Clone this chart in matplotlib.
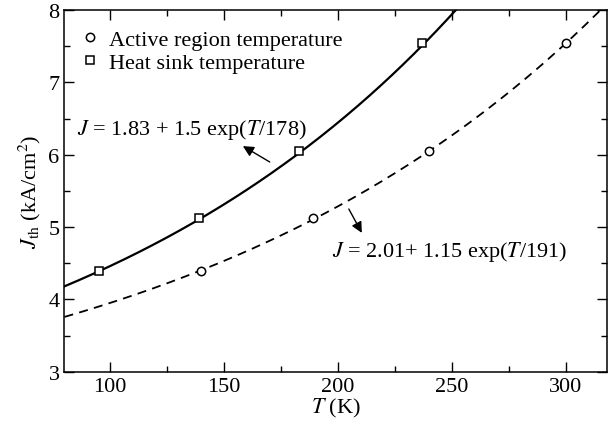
import numpy as np
import matplotlib
matplotlib.use("Agg")
import matplotlib.pyplot as plt
from matplotlib.ticker import MultipleLocator

plt.rcParams['font.family'] = ['Liberation Serif', 'DejaVu Serif']
plt.rcParams['mathtext.fontset'] = 'stix'

# measured threshold current density, kA/cm^2
T_sink = [95, 139, 183, 237]
J_sink = [4.40, 5.12, 6.05, 7.55]
T_active = [140, 189, 240, 300]
J_active = [4.40, 5.12, 6.05, 7.55]

# fit J = a + b exp(T/T0)
fit_sink = (1.83, 1.5, 178)
fit_active = (2.01, 1.15, 191)

def fit(T, p):
    a, b, T0 = p
    return a + b * np.exp(T / T0)

fs = 16
arrow = dict(arrowstyle='-|>', color='black', lw=1, mutation_scale=16,
             shrinkA=0, shrinkB=0)

fig = plt.figure(figsize=(6.08, 4.27), dpi=100)
ax = fig.add_axes([0.106, 0.127, 0.892, 0.847])

T = np.linspace(80, 320, 400)
ax.plot(T, fit(T, fit_sink), color='black', lw=1.6)
ax.plot(T, fit(T, fit_active), color='black', lw=1.3, ls=(0, (5, 3.5)))

ax.plot(T_active, J_active, 'o', mfc='white', mec='black', mew=1.1, ms=6,
        label='Active region temperature')
ax.plot(T_sink, J_sink, 's', mfc='white', mec='black', mew=1.1, ms=5.5,
        label='Heat sink temperature')

# fit labels with arrows pointing to the curves
ax.text(85.5, 6.36, '$J$ = 1.83 + 1.5 exp($T$/178)', fontsize=fs, va='center')
ax.annotate('', xy=(158.3, 6.12), xytext=(170.1, 5.90), arrowprops=arrow)
ax.text(197.3, 4.67, '$J$ = 2.01+ 1.15 exp($T$/191)', fontsize=fs, va='center')
ax.annotate('', xy=(210.5, 4.92), xytext=(204.8, 5.25), arrowprops=arrow)

ax.set_xlim(80, 318)
ax.set_ylim(3, 8)
ax.xaxis.set_major_locator(MultipleLocator(50))
ax.xaxis.set_minor_locator(MultipleLocator(25))
ax.yaxis.set_major_locator(MultipleLocator(1))
ax.yaxis.set_minor_locator(MultipleLocator(0.5))
ax.tick_params(which='both', direction='in', top=True, right=True, labelsize=fs, width=1)
ax.tick_params(which='major', length=7)
ax.tick_params(which='minor', length=4)
for s in ax.spines.values():
    s.set_linewidth(1.1)

ax.set_xlabel('$T$ (K)', fontsize=fs, labelpad=0)
ax.set_ylabel('$J_{\\rm th}$ (kA/cm$^2$)', fontsize=fs, labelpad=4)

ax.legend(loc='upper left', bbox_to_anchor=(-0.01, 0.995), frameon=False, fontsize=fs,
          handletextpad=0.25, handlelength=1.2, borderaxespad=0.4, labelspacing=0.1)

fig.savefig('out.png', dpi=100)
